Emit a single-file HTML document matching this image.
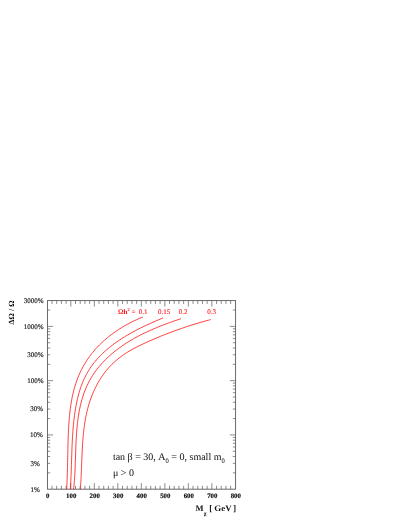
<!DOCTYPE html>
<html><head><meta charset="utf-8"><style>
html,body{margin:0;padding:0;background:#fff;}
body{width:407px;height:527px;overflow:hidden;}
svg{display:block;font-family:"Liberation Serif",serif;will-change:transform;opacity:0.999;text-rendering:geometricPrecision;}
</style></head><body>
<svg width="407" height="527" viewBox="0 0 407 527">
<rect width="407" height="527" fill="#fff"/>
<g fill="none" stroke="#6a6a6a" stroke-width="1">
<rect x="47.5" y="300.55" width="188.05" height="188.64999999999998"/>
</g>
<path d="M52.00,489.2 v-3.4 M52.00,300.55 v3.4 M56.70,489.2 v-3.4 M56.70,300.55 v3.4 M61.40,489.2 v-3.4 M61.40,300.55 v3.4 M66.11,489.2 v-3.4 M66.11,300.55 v3.4 M70.81,489.2 v-6.0 M70.81,300.55 v6.0 M75.51,489.2 v-3.4 M75.51,300.55 v3.4 M80.21,489.2 v-3.4 M80.21,300.55 v3.4 M84.91,489.2 v-3.4 M84.91,300.55 v3.4 M89.61,489.2 v-3.4 M89.61,300.55 v3.4 M94.31,489.2 v-6.0 M94.31,300.55 v6.0 M99.01,489.2 v-3.4 M99.01,300.55 v3.4 M103.71,489.2 v-3.4 M103.71,300.55 v3.4 M108.42,489.2 v-3.4 M108.42,300.55 v3.4 M113.12,489.2 v-3.4 M113.12,300.55 v3.4 M117.82,489.2 v-6.0 M117.82,300.55 v6.0 M122.52,489.2 v-3.4 M122.52,300.55 v3.4 M127.22,489.2 v-3.4 M127.22,300.55 v3.4 M131.92,489.2 v-3.4 M131.92,300.55 v3.4 M136.62,489.2 v-3.4 M136.62,300.55 v3.4 M141.33,489.2 v-6.0 M141.33,300.55 v6.0 M146.03,489.2 v-3.4 M146.03,300.55 v3.4 M150.73,489.2 v-3.4 M150.73,300.55 v3.4 M155.43,489.2 v-3.4 M155.43,300.55 v3.4 M160.13,489.2 v-3.4 M160.13,300.55 v3.4 M164.83,489.2 v-6.0 M164.83,300.55 v6.0 M169.53,489.2 v-3.4 M169.53,300.55 v3.4 M174.23,489.2 v-3.4 M174.23,300.55 v3.4 M178.94,489.2 v-3.4 M178.94,300.55 v3.4 M183.64,489.2 v-3.4 M183.64,300.55 v3.4 M188.34,489.2 v-6.0 M188.34,300.55 v6.0 M193.04,489.2 v-3.4 M193.04,300.55 v3.4 M197.74,489.2 v-3.4 M197.74,300.55 v3.4 M202.44,489.2 v-3.4 M202.44,300.55 v3.4 M207.14,489.2 v-3.4 M207.14,300.55 v3.4 M211.84,489.2 v-6.0 M211.84,300.55 v6.0 M216.55,489.2 v-3.4 M216.55,300.55 v3.4 M221.25,489.2 v-3.4 M221.25,300.55 v3.4 M225.95,489.2 v-3.4 M225.95,300.55 v3.4 M230.65,489.2 v-3.4 M230.65,300.55 v3.4 M47.5,472.86 h2.7 M235.55,472.86 h-2.7 M47.5,463.31 h2.7 M235.55,463.31 h-2.7 M47.5,456.53 h2.7 M235.55,456.53 h-2.7 M47.5,451.27 h2.7 M235.55,451.27 h-2.7 M47.5,446.97 h2.7 M235.55,446.97 h-2.7 M47.5,443.34 h2.7 M235.55,443.34 h-2.7 M47.5,440.19 h2.7 M235.55,440.19 h-2.7 M47.5,437.41 h2.7 M235.55,437.41 h-2.7 M47.5,434.93 h5.6 M235.55,434.93 h-5.6 M47.5,418.59 h2.7 M235.55,418.59 h-2.7 M47.5,409.04 h2.7 M235.55,409.04 h-2.7 M47.5,402.26 h2.7 M235.55,402.26 h-2.7 M47.5,397.00 h2.7 M235.55,397.00 h-2.7 M47.5,392.70 h2.7 M235.55,392.70 h-2.7 M47.5,389.07 h2.7 M235.55,389.07 h-2.7 M47.5,385.92 h2.7 M235.55,385.92 h-2.7 M47.5,383.14 h2.7 M235.55,383.14 h-2.7 M47.5,380.66 h5.6 M235.55,380.66 h-5.6 M47.5,364.32 h2.7 M235.55,364.32 h-2.7 M47.5,354.77 h2.7 M235.55,354.77 h-2.7 M47.5,347.99 h2.7 M235.55,347.99 h-2.7 M47.5,342.73 h2.7 M235.55,342.73 h-2.7 M47.5,338.43 h2.7 M235.55,338.43 h-2.7 M47.5,334.80 h2.7 M235.55,334.80 h-2.7 M47.5,331.65 h2.7 M235.55,331.65 h-2.7 M47.5,328.87 h2.7 M235.55,328.87 h-2.7 M47.5,326.39 h5.6 M235.55,326.39 h-5.6 M47.5,310.05 h2.7 M235.55,310.05 h-2.7" fill="none" stroke="#666" stroke-width="0.75"/>
<g fill="none" stroke="#ff1a1a" stroke-width="0.85">
<path d="M66.61,489.34 L66.72,487.70 L66.81,486.04 L66.90,484.39 L66.98,482.72 L67.06,481.05 L67.13,479.37 L67.19,477.69 L67.25,476.01 L67.31,474.31 L67.36,472.62 L67.41,470.92 L67.45,469.21 L67.49,467.51 L67.53,465.79 L67.57,464.08 L67.60,462.36 L67.64,460.64 L67.67,458.91 L67.71,457.19 L67.74,455.46 L67.77,453.73 L67.81,451.99 L67.85,450.26 L67.88,448.52 L67.92,446.79 L67.97,445.05 L68.01,443.31 L68.06,441.57 L68.12,439.83 L68.17,438.09 L68.24,436.35 L68.30,434.60 L68.38,432.87 L68.46,431.13 L68.54,429.39 L68.63,427.65 L68.73,425.92 L68.84,424.18 L68.96,422.45 L69.09,420.72 L69.22,418.99 L69.37,417.27 L69.53,415.54 L69.71,413.82 L69.89,412.11 L70.09,410.39 L70.31,408.68 L70.54,406.98 L70.79,405.28 L71.05,403.58 L71.33,401.89 L71.63,400.20 L71.95,398.52 L72.28,396.84 L72.64,395.17 L73.02,393.50 L73.42,391.84 L73.84,390.19 L74.28,388.54 L74.75,386.91 L75.24,385.28 L75.75,383.66 L76.29,382.05 L76.85,380.45 L77.44,378.86 L78.06,377.28 L78.71,375.71 L79.38,374.16 L80.08,372.61 L80.80,371.08 L81.56,369.56 L82.34,368.05 L83.14,366.56 L83.98,365.08 L84.84,363.62 L85.72,362.17 L86.64,360.73 L87.58,359.32 L88.55,357.91 L89.54,356.53 L90.56,355.16 L91.61,353.81 L92.68,352.48 L93.78,351.16 L94.90,349.86 L96.04,348.58 L97.21,347.32 L98.40,346.08 L99.61,344.85 L100.85,343.64 L102.10,342.45 L103.37,341.28 L104.66,340.13 L105.97,338.99 L107.30,337.88 L108.64,336.78 L110.00,335.71 L111.38,334.65 L112.77,333.61 L114.17,332.59 L115.59,331.59 L117.02,330.61 L118.47,329.65 L119.92,328.71 L121.39,327.79 L122.87,326.89 L124.35,326.01 L125.85,325.15 L127.35,324.31 L128.87,323.49 L130.38,322.69 L131.91,321.92 L133.44,321.16 L134.98,320.42 L136.52,319.70 L138.06,319.00 L139.61,318.33 L141.16,317.67 L142.71,317.03"/>
<path d="M70.24,489.35 L70.37,487.62 L70.49,485.89 L70.60,484.15 L70.70,482.40 L70.80,480.64 L70.89,478.88 L70.97,477.11 L71.05,475.34 L71.12,473.56 L71.19,471.77 L71.26,469.98 L71.32,468.19 L71.38,466.39 L71.44,464.59 L71.50,462.78 L71.55,460.97 L71.61,459.15 L71.67,457.34 L71.72,455.52 L71.78,453.70 L71.85,451.87 L71.91,450.05 L71.98,448.22 L72.05,446.39 L72.13,444.56 L72.22,442.73 L72.30,440.90 L72.40,439.07 L72.50,437.24 L72.61,435.41 L72.73,433.59 L72.86,431.76 L73.00,429.93 L73.14,428.11 L73.30,426.29 L73.47,424.47 L73.65,422.65 L73.85,420.84 L74.05,419.02 L74.27,417.22 L74.51,415.41 L74.76,413.61 L75.02,411.82 L75.31,410.03 L75.60,408.24 L75.92,406.46 L76.25,404.69 L76.60,402.92 L76.97,401.15 L77.36,399.40 L77.78,397.65 L78.21,395.91 L78.67,394.17 L79.15,392.45 L79.66,390.74 L80.19,389.03 L80.75,387.34 L81.35,385.66 L81.97,383.99 L82.63,382.34 L83.32,380.70 L84.04,379.08 L84.80,377.47 L85.60,375.88 L86.44,374.31 L87.31,372.76 L88.21,371.22 L89.15,369.71 L90.12,368.21 L91.13,366.74 L92.17,365.29 L93.24,363.86 L94.34,362.45 L95.47,361.07 L96.63,359.71 L97.82,358.37 L99.03,357.05 L100.27,355.76 L101.54,354.49 L102.83,353.23 L104.15,352.00 L105.49,350.79 L106.85,349.60 L108.23,348.43 L109.64,347.28 L111.06,346.15 L112.50,345.04 L113.96,343.95 L115.44,342.88 L116.93,341.82 L118.44,340.78 L119.96,339.76 L121.49,338.76 L123.04,337.77 L124.60,336.81 L126.17,335.85 L127.75,334.92 L129.34,334.00 L130.93,333.09 L132.54,332.21 L134.15,331.33 L135.76,330.47 L137.38,329.63 L139.01,328.80 L140.63,327.98 L142.26,327.18 L143.89,326.39 L145.52,325.62 L147.15,324.85 L148.78,324.10 L150.41,323.36 L152.03,322.64 L153.65,321.92 L155.26,321.22 L156.87,320.52 L158.47,319.84 L160.06,319.17 L161.64,318.51 L163.22,317.86"/>
<path d="M73.55,489.36 L73.75,487.57 L73.94,485.77 L74.12,483.96 L74.27,482.14 L74.42,480.31 L74.55,478.48 L74.67,476.63 L74.78,474.78 L74.88,472.91 L74.98,471.05 L75.06,469.17 L75.14,467.29 L75.22,465.40 L75.28,463.51 L75.35,461.62 L75.41,459.72 L75.47,457.81 L75.53,455.90 L75.60,453.99 L75.66,452.08 L75.72,450.16 L75.79,448.25 L75.86,446.33 L75.94,444.41 L76.03,442.49 L76.12,440.57 L76.22,438.66 L76.33,436.74 L76.45,434.83 L76.58,432.91 L76.72,431.00 L76.88,429.10 L77.05,427.19 L77.23,425.29 L77.44,423.40 L77.66,421.51 L77.89,419.62 L78.15,417.74 L78.43,415.87 L78.72,414.00 L79.04,412.14 L79.39,410.29 L79.76,408.44 L80.15,406.61 L80.57,404.78 L81.01,402.96 L81.49,401.15 L81.99,399.35 L82.52,397.57 L83.09,395.79 L83.68,394.03 L84.31,392.28 L84.97,390.54 L85.66,388.82 L86.39,387.11 L87.16,385.41 L87.96,383.74 L88.79,382.08 L89.67,380.43 L90.58,378.81 L91.53,377.20 L92.52,375.61 L93.55,374.04 L94.61,372.50 L95.71,370.97 L96.84,369.46 L98.00,367.98 L99.19,366.52 L100.41,365.09 L101.65,363.68 L102.92,362.29 L104.22,360.93 L105.54,359.59 L106.88,358.28 L108.25,356.99 L109.64,355.72 L111.05,354.47 L112.48,353.25 L113.93,352.05 L115.40,350.87 L116.89,349.72 L118.40,348.58 L119.92,347.47 L121.46,346.37 L123.02,345.30 L124.59,344.25 L126.18,343.21 L127.79,342.20 L129.40,341.21 L131.03,340.23 L132.68,339.27 L134.33,338.33 L136.00,337.41 L137.67,336.51 L139.36,335.62 L141.05,334.75 L142.75,333.90 L144.46,333.06 L146.18,332.24 L147.91,331.43 L149.64,330.64 L151.37,329.87 L153.11,329.11 L154.86,328.36 L156.60,327.63 L158.35,326.91 L160.10,326.21 L161.86,325.52 L163.61,324.84 L165.36,324.17 L167.12,323.52 L168.87,322.88 L170.62,322.25 L172.36,321.63 L174.11,321.02 L175.85,320.42 L177.58,319.84 L179.31,319.26 L181.04,318.69"/>
<path d="M80.26,489.45 L80.43,487.46 L80.58,485.48 L80.72,483.48 L80.85,481.48 L80.96,479.47 L81.07,477.46 L81.17,475.44 L81.27,473.42 L81.36,471.39 L81.44,469.36 L81.52,467.33 L81.60,465.29 L81.68,463.25 L81.76,461.21 L81.84,459.17 L81.92,457.12 L82.01,455.07 L82.10,453.03 L82.20,450.98 L82.30,448.93 L82.41,446.88 L82.54,444.84 L82.67,442.79 L82.82,440.75 L82.98,438.71 L83.15,436.67 L83.34,434.63 L83.54,432.60 L83.77,430.57 L84.01,428.54 L84.27,426.52 L84.55,424.50 L84.86,422.49 L85.19,420.49 L85.54,418.49 L85.92,416.49 L86.33,414.50 L86.76,412.52 L87.23,410.55 L87.72,408.59 L88.25,406.63 L88.81,404.68 L89.40,402.74 L90.03,400.81 L90.69,398.89 L91.39,396.98 L92.13,395.09 L92.90,393.20 L93.71,391.34 L94.56,389.49 L95.44,387.65 L96.36,385.84 L97.31,384.05 L98.31,382.27 L99.34,380.53 L100.40,378.80 L101.50,377.10 L102.64,375.43 L103.82,373.79 L105.04,372.17 L106.29,370.59 L107.57,369.04 L108.90,367.52 L110.26,366.04 L111.66,364.59 L113.10,363.18 L114.57,361.82 L116.08,360.48 L117.63,359.19 L119.21,357.94 L120.82,356.72 L122.45,355.53 L124.12,354.38 L125.81,353.26 L127.53,352.18 L129.27,351.12 L131.03,350.10 L132.81,349.10 L134.60,348.13 L136.41,347.18 L138.24,346.26 L140.07,345.35 L141.92,344.46 L143.78,343.59 L145.64,342.73 L147.51,341.89 L149.38,341.06 L151.25,340.23 L153.12,339.42 L155.00,338.62 L156.88,337.83 L158.76,337.04 L160.64,336.27 L162.52,335.50 L164.41,334.75 L166.30,334.00 L168.20,333.27 L170.09,332.55 L171.99,331.83 L173.89,331.13 L175.80,330.43 L177.70,329.74 L179.61,329.07 L181.53,328.40 L183.44,327.75 L185.36,327.10 L187.29,326.46 L189.21,325.84 L191.14,325.22 L193.08,324.61 L195.02,324.02 L196.96,323.43 L198.90,322.85 L200.85,322.29 L202.81,321.73 L204.76,321.18 L206.73,320.64 L208.69,320.11 L210.66,319.60"/>
</g>
<g font-size="7.0" fill="#222" stroke="#222" stroke-width="0.18"><text x="43.6" y="302.90" text-anchor="end">3000%</text><text x="43.6" y="328.79" text-anchor="end">1000%</text><text x="43.6" y="357.17" text-anchor="end">300%</text><text x="43.6" y="383.06" text-anchor="end">100%</text><text x="43.0" y="411.44" text-anchor="end">30%</text><text x="42.8" y="437.33" text-anchor="end">10%</text><text x="39.9" y="465.71" text-anchor="end">3%</text><text x="39.9" y="491.60" text-anchor="end">1%</text></g>
<g font-size="6.8" font-weight="bold" fill="#111" stroke="#111" stroke-width="0.18"><text x="47.70" y="498.2" text-anchor="middle">0</text><text x="71.21" y="498.2" text-anchor="middle">100</text><text x="94.71" y="498.2" text-anchor="middle">200</text><text x="118.22" y="498.2" text-anchor="middle">300</text><text x="141.72" y="498.2" text-anchor="middle">400</text><text x="165.23" y="498.2" text-anchor="middle">500</text><text x="188.74" y="498.2" text-anchor="middle">600</text><text x="212.24" y="498.2" text-anchor="middle">700</text><text x="235.75" y="498.2" text-anchor="middle">800</text></g>
<g fill="#ff1a1a" font-size="7">
<text x="118" y="313.5" font-weight="bold">&#937;h<tspan font-size="4.5" dy="-2.6">2</tspan><tspan dy="2.6"> =</tspan></text>
<g stroke="#ff1a1a" stroke-width="0.12"><text x="138.7" y="313.5">0.1</text>
<text x="158.1" y="313.5">0.15</text>
<text x="178.8" y="313.5">0.2</text>
<text x="207.3" y="313.5">0.3</text></g>
</g>
<g fill="#222" font-size="10" stroke="#222" stroke-width="0.05">
<text x="112.9" y="460.2">tan &#946; = 30, A<tspan font-size="6.6" dy="3.0">0</tspan><tspan dy="-3.0"> = 0, small m</tspan><tspan font-size="6.6" dy="3.0">0</tspan></text>
<text x="112.9" y="476.4">&#956; &gt; 0</text>
</g>
<g fill="#111" font-weight="bold">
<g font-size="8.5"><text x="195.5" y="511.2">M</text><text x="204.0" y="514.7" font-size="5.1" stroke="#111" stroke-width="0.15">&#967;</text><text x="209.3" y="511.2">[</text><text x="214.3" y="511.2" textLength="17.3" lengthAdjust="spacingAndGlyphs">GeV</text><text x="233.2" y="511.2">]</text></g>
<text transform="translate(14.1,324.5) rotate(-90)" font-size="7.9" textLength="24" lengthAdjust="spacing">&#916;&#937; / &#937;</text>
</g>
</svg>
</body></html>
